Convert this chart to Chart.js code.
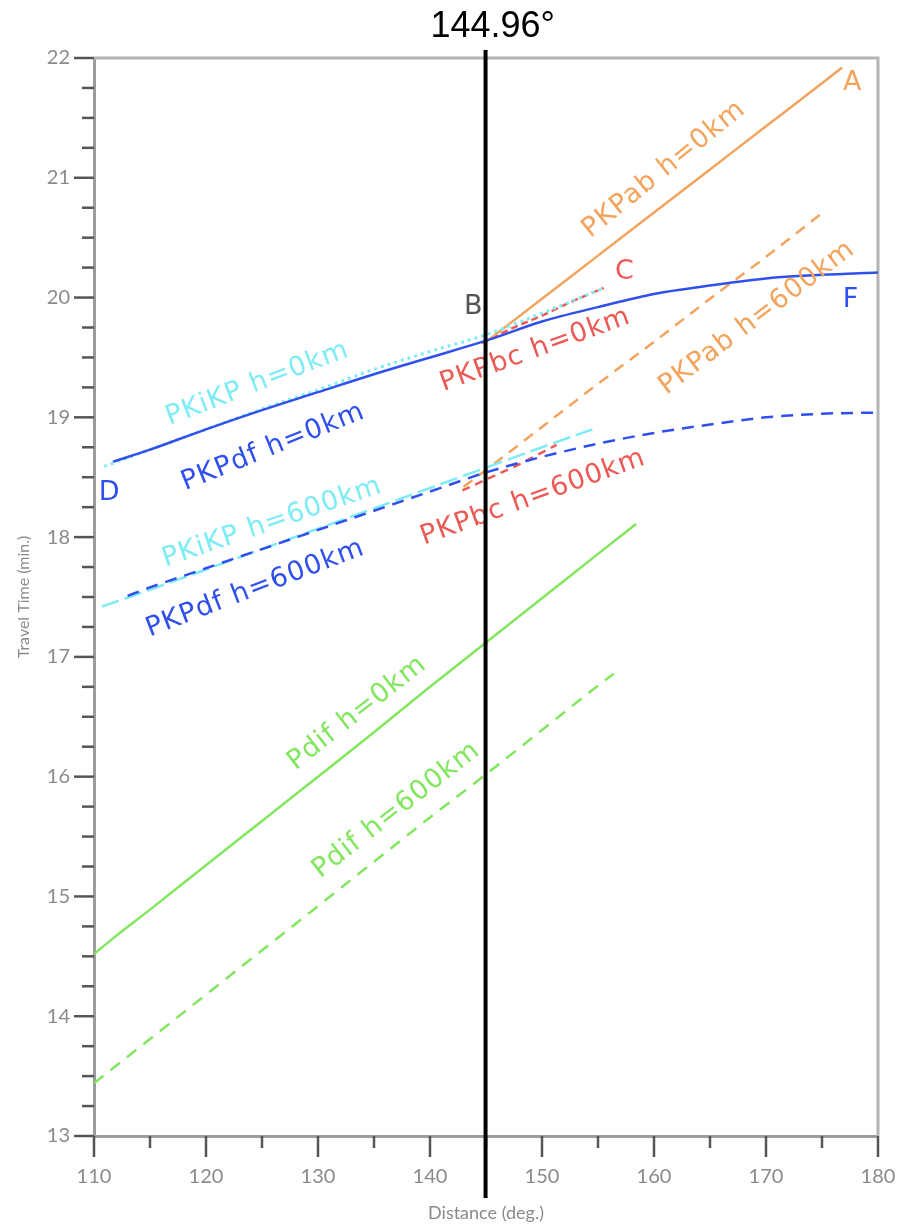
<!DOCTYPE html>
<html>
<head>
<meta charset="utf-8">
<script src="https://cdn.jsdelivr.net/npm/chart.js@4.4.1/dist/chart.umd.min.js"></script>
<style>
  body { margin: 0; background: #fff; }
  canvas { display: block; }
</style>
</head>
<body>
<canvas id="tt" width="903" height="1230"></canvas>
<script>
// travel time curves, [distance deg, time min]
pkpab0 = [[145,19.63],[150,19.99],[155,20.35],[160,20.71],[165,21.07],[170,21.43],[175,21.79],[176.8,21.92]];
pkpab600 = [[143,18.42],[145,18.56],[150,18.92],[155,19.28],[160,19.63],[165,19.99],[170,20.34],[174.8,20.69]];
pkpbc0 = [[144.6,19.62],[147,19.73],[150,19.85],[153,19.98],[155.5,20.08]];
pkpbc600 = [[142.9,18.39],[145,18.48],[148,18.61],[151.3,18.77]];
pkikp0 = [[110.9,18.59],[115,18.73],[120,18.90],[125,19.07],[130,19.23],[135,19.40],[140,19.55],[145,19.69],[150,19.87],[155.3,20.07]];
pkikp600 = [[110.7,17.42],[115,17.56],[120,17.73],[125,17.90],[130,18.07],[135,18.24],[140,18.41],[145,18.58],[150,18.75],[154.5,18.90]];
pkpdf0 = [[111.7,18.63],[115,18.73],[120,18.90],[125,19.06],[130,19.21],[135,19.36],[140,19.50],[145,19.64],[150,19.80],[155,19.92],[160,20.03],[165,20.10],[170,20.16],[175,20.19],[180,20.21]];
pkpdf600 = [[113,17.51],[115,17.58],[120,17.74],[125,17.90],[130,18.06],[135,18.22],[140,18.38],[145,18.54],[150,18.67],[155,18.78],[160,18.87],[165,18.94],[170,19.00],[175,19.03],[180,19.04]];
pdif0 = [[110,14.52],[111.7,14.65],[115,14.89],[120,15.26],[125,15.63],[130,16.00],[135,16.37],[140,16.75],[145,17.12],[150,17.49],[155,17.86],[158.4,18.11]];
pdif600 = [[110,13.44],[115,13.81],[120,14.18],[125,14.55],[130,14.92],[135,15.29],[140,15.66],[145,16.02],[150,16.39],[155,16.76],[156.4,16.86]];

markerDist = 144.96;
xMin = 110; xMax = 180;
yMin = 13; yMax = 22;

orange = '#f3a45c';
red = '#ec5a55';
cyan = '#7eecf5';
blue = '#3050ee';
green = '#82e65e';

// text along the curves: [text, distance, time, angle, colour]
curveLabels = [
  ['PKPab h=0km', 160.9, 21.07, -39, orange],
  ['PKPab h=600km', 169.2, 19.83, -37, orange],
  ['PKPbc h=0km', 149.4, 19.56, -20, red],
  ['PKPbc h=600km', 149.2, 18.33, -20, red],
  ['PKiKP h=0km', 124.6, 19.28, -21, cyan],
  ['PKPdf h=0km', 126.0, 18.75, -22, blue],
  ['PKiKP h=600km', 125.9, 18.12, -19, cyan],
  ['PKPdf h=600km', 124.4, 17.57, -21, blue],
  ['Pdif h=0km', 133.5, 16.53, -38, green],
  ['Pdif h=600km', 137.0, 15.72, -38, green],
  ['A', 177.75, 21.79, 0, orange],
  ['C', 157.4, 20.21, 0, red],
  ['B', 143.9, 19.92, 0, '#555555'],
  ['F', 177.6, 19.98, 0, blue],
  ['D', 111.4, 18.37, 0, blue]
];

function pts(arr) {
  return arr.map(function (p) { return {x: p[0], y: p[1]}; });
}

function line(name, arr, color, dash, width) {
  return {
    label: name,
    data: pts(arr),
    borderColor: color,
    borderWidth: width || 2.5,
    borderDash: dash || [],
    pointRadius: 0,
    fill: false,
    cubicInterpolationMode: 'monotone'
  };
}

datasets = [
  line('PKPdf h=0km', pkpdf0, blue),
  line('PKPdf h=600km', pkpdf600, blue, [12, 8]),
  line('PKiKP h=0km', pkikp0, cyan, [3, 4], 3),
  line('PKiKP h=600km', pkikp600, cyan, [18, 6]),
  line('PKPab h=0km', pkpab0, orange),
  line('PKPab h=600km', pkpab600, orange, [11, 8]),
  line('PKPbc h=0km', pkpbc0, red, [7, 4]),
  line('PKPbc h=600km', pkpbc600, red, [8, 6]),
  line('Pdif h=0km', pdif0, green),
  line('Pdif h=600km', pdif600, green, [12, 9])
];

frame = {
  id: 'frame',
  beforeDatasetsDraw: function (chart) {
    var c = chart.ctx, a = chart.chartArea;
    var xs = chart.scales.x, ys = chart.scales.y;
    c.save();
    // top and right edges of the box
    c.strokeStyle = '#b4b4b4';
    c.lineWidth = 3;
    c.beginPath();
    c.moveTo(a.left, a.top);
    c.lineTo(a.right, a.top);
    c.lineTo(a.right, a.bottom);
    c.stroke();
    // tick marks, minor every 0.25 min and 5 deg
    c.strokeStyle = '#555';
    c.lineWidth = 2.5;
    for (var t = yMin; t <= yMax; t += 0.25) {
      var py = ys.getPixelForValue(t);
      var len = (t % 1 == 0) ? 20 : 12;
      c.beginPath();
      c.moveTo(a.left - len, py);
      c.lineTo(a.left, py);
      c.stroke();
    }
    for (var d = xMin; d <= xMax; d += 5) {
      var px = xs.getPixelForValue(d);
      var len2 = (d % 10 == 0) ? 21 : 12;
      c.beginPath();
      c.moveTo(px, a.bottom);
      c.lineTo(px, a.bottom + len2);
      c.stroke();
    }
    c.restore();
  },
  afterDatasetsDraw: function (chart) {
    var c = chart.ctx;
    var xs = chart.scales.x, ys = chart.scales.y;
    c.save();
    curveLabels.forEach(function (l) {
      c.save();
      c.translate(xs.getPixelForValue(l[1]), ys.getPixelForValue(l[2]));
      c.rotate(l[3] * Math.PI / 180);
      c.font = '27px "DejaVu Sans"';
      c.letterSpacing = '1px';
      c.fillStyle = l[4];
      c.textAlign = 'center';
      c.textBaseline = 'middle';
      c.fillText(l[0], 0, 0);
      c.restore();
    });
    // marker line and its value
    var mx = xs.getPixelForValue(markerDist);
    c.strokeStyle = '#000';
    c.lineWidth = 4;
    c.beginPath();
    c.moveTo(mx, 50);
    c.lineTo(mx, 1198);
    c.stroke();
    c.font = '36px "Liberation Sans"';
    c.fillStyle = '#000';
    c.textBaseline = 'alphabetic';
    c.textAlign = 'left';
    var num = markerDist.toFixed(2);
    c.fillText(num + '°', mx - c.measureText(num).width / 2, 37);
    c.restore();
  }
};

new Chart(document.getElementById('tt'), {
  type: 'line',
  data: { datasets: datasets },
  options: {
    responsive: false,
    animation: false,
    layout: { padding: { top: 58, right: 25, left: 0, bottom: 0 } },
    plugins: { legend: { display: false }, tooltip: { enabled: false } },
    scales: {
      x: {
        type: 'linear',
        min: xMin, max: xMax,
        grid: { display: false, drawTicks: false },
        border: { color: '#9c9c9c', width: 3 },
        ticks: { stepSize: 10, padding: 29, color: '#8a8a8a', font: { family: 'Lato', size: 20 } },
        title: { display: true, text: 'Distance (deg.)', color: '#8a8a8a', font: { family: 'Lato', size: 18 }, padding: { top: 0, bottom: 6 } },
        afterFit: function (s) { s.height = 94; s.paddingLeft = 0; s.paddingRight = 0; }
      },
      y: {
        type: 'linear',
        min: yMin, max: yMax,
        grid: { display: false, drawTicks: false },
        border: { color: '#9c9c9c', width: 3 },
        ticks: { stepSize: 1, padding: 24, color: '#8a8a8a', font: { family: 'Lato', size: 20 } },
        title: { display: true, text: 'Travel Time (min.)', color: '#8a8a8a', font: { family: 'Lato', size: 16 }, padding: { top: 14, bottom: 0 } },
        afterFit: function (s) { s.width = 94; s.paddingTop = 0; s.paddingBottom = 0; }
      }
    }
  },
  plugins: [frame]
});
</script>
</body>
</html>
